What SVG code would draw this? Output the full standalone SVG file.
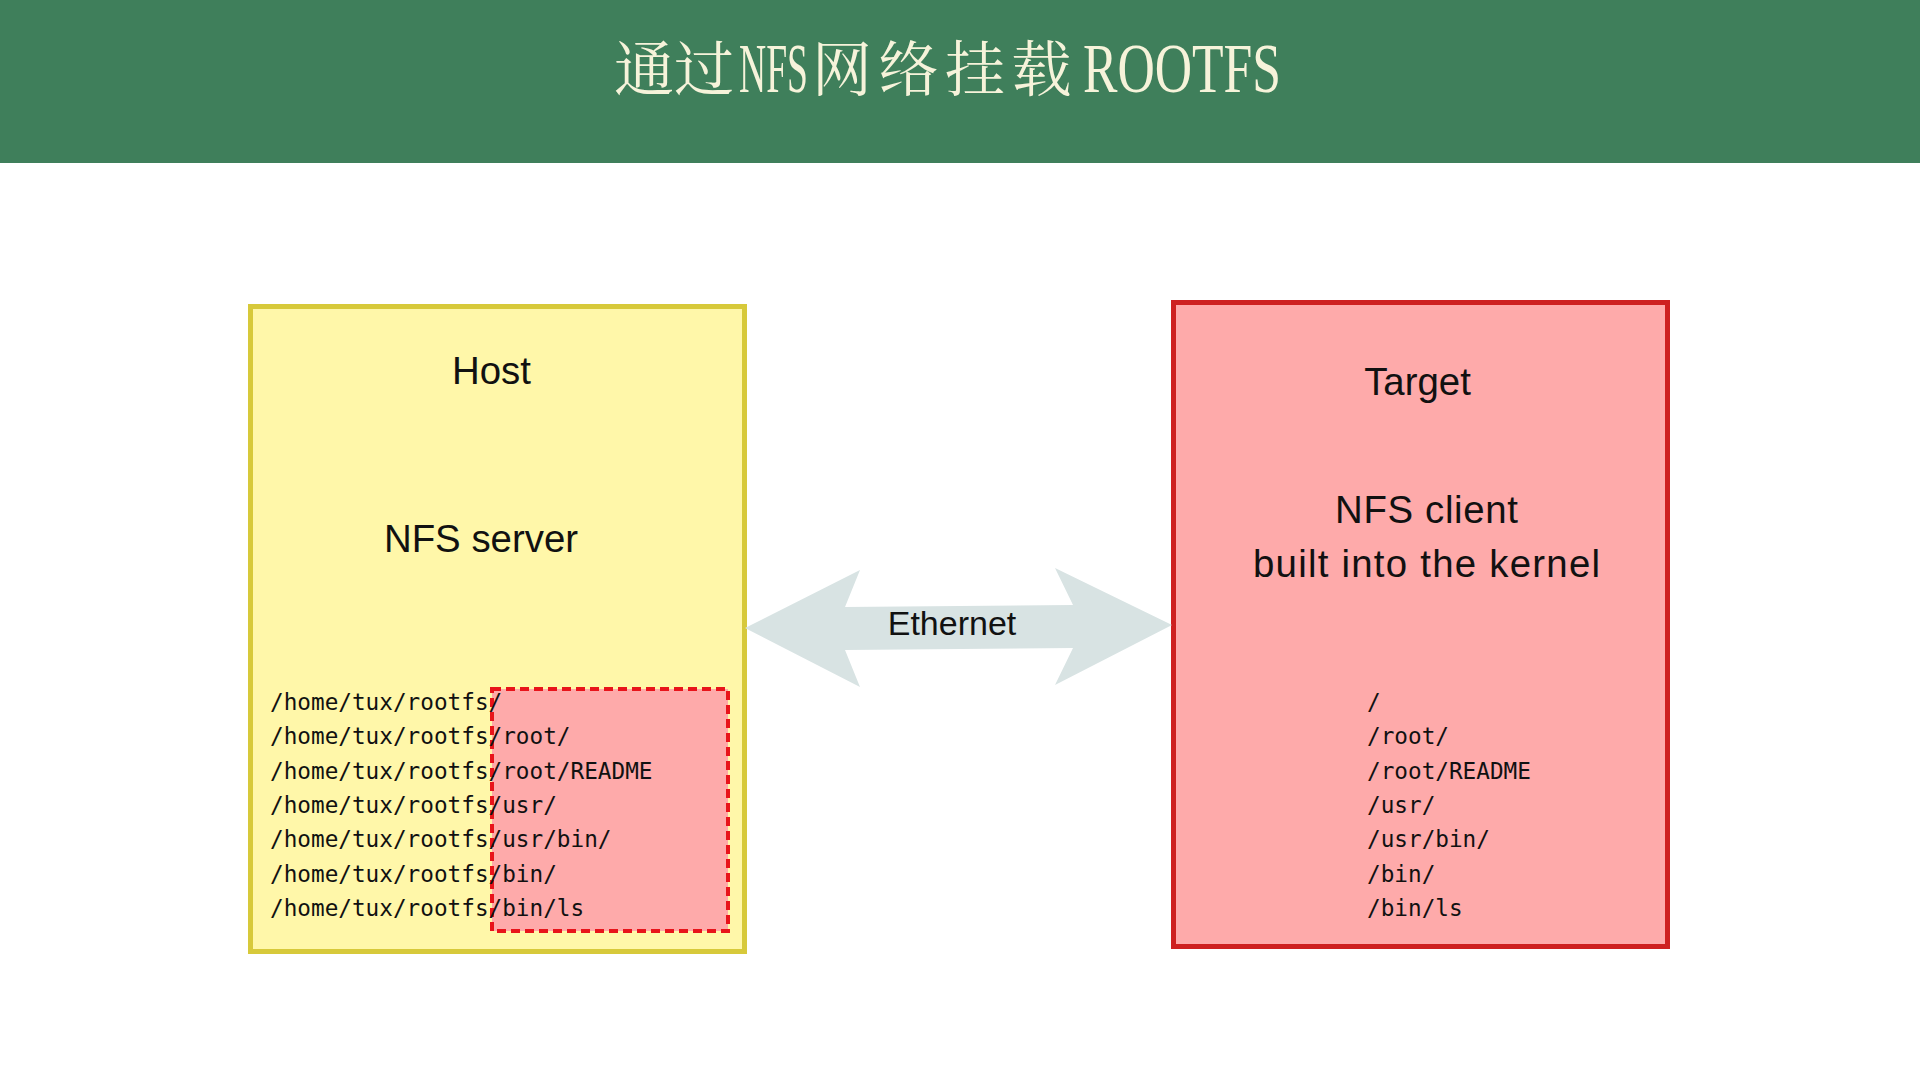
<svg xmlns="http://www.w3.org/2000/svg" width="1920" height="1080" viewBox="0 0 1920 1080">
  <style>
    .title-cjk { font-family: "Noto Serif CJK SC", "Noto Sans CJK SC", serif; font-size: 60px; fill: #F6F3DA; }
    .title-lat { font-family: "Liberation Serif", "Noto Sans CJK SC", serif; font-size: 70px; fill: #F6F3DA; }
    .label { font-family: "Liberation Sans", "DejaVu Sans", sans-serif; font-size: 38.4px; fill: #111111; text-anchor: middle; }
    .eth { font-family: "Liberation Sans", "DejaVu Sans", sans-serif; font-size: 34px; fill: #111111; text-anchor: middle; }
    .mono { font-family: "DejaVu Sans Mono", "Liberation Mono", monospace; font-size: 22.7px; fill: #111111; }
    .host-box { fill: #FFF7A9; stroke: #D7C93A; stroke-width: 5; }
    .target-box { fill: #FEAAAA; stroke: #CE2020; stroke-width: 5; }
    .mount { fill: #FEAAAA; stroke: #E8141A; stroke-width: 4; stroke-dasharray: 9 5; }
    .arrow { fill: #D8E3E3; }
  </style>

  <rect x="0" y="0" width="1920" height="1080" fill="#FFFFFF"/>

  <g id="title">
    <rect x="0" y="0" width="1920" height="163" fill="#3F7F5B"/>
    <text class="title-cjk" x="614" y="91">通过</text>
    <text class="title-lat" transform="translate(739 92) scale(0.537 1)" x="0" y="0">NFS</text>
    <text class="title-cjk" x="812" y="91" letter-spacing="6.5">网络挂载</text>
    <text class="title-lat" transform="translate(1083 92) scale(0.738 1)" x="0" y="0">ROOTFS</text>
  </g>

  <g id="host">
    <rect class="host-box" x="250.5" y="306.5" width="494" height="645"/>
    <text class="label" x="491.5" y="384">Host</text>
    <text class="label" x="481" y="552">NFS server</text>
    <rect id="mounted-subtree" class="mount" x="492" y="689" width="236" height="242"/>
    <text class="mono" x="270" y="710">/home/tux/rootfs/</text>
    <text class="mono" x="270" y="744.3">/home/tux/rootfs/root/</text>
    <text class="mono" x="270" y="778.6">/home/tux/rootfs/root/README</text>
    <text class="mono" x="270" y="812.9">/home/tux/rootfs/usr/</text>
    <text class="mono" x="270" y="847.2">/home/tux/rootfs/usr/bin/</text>
    <text class="mono" x="270" y="881.5">/home/tux/rootfs/bin/</text>
    <text class="mono" x="270" y="915.8">/home/tux/rootfs/bin/ls</text>
  </g>

  <g id="target">
    <rect class="target-box" x="1173.5" y="302.5" width="494" height="644"/>
    <text class="label" x="1417.5" y="395">Target</text>
    <text class="label" x="1426.5" y="523" textLength="183">NFS client</text>
    <text class="label" x="1426.5" y="577" textLength="347">built into the kernel</text>
    <text class="mono" x="1367" y="710">/</text>
    <text class="mono" x="1367" y="744.3">/root/</text>
    <text class="mono" x="1367" y="778.6">/root/README</text>
    <text class="mono" x="1367" y="812.9">/usr/</text>
    <text class="mono" x="1367" y="847.2">/usr/bin/</text>
    <text class="mono" x="1367" y="881.5">/bin/</text>
    <text class="mono" x="1367" y="915.8">/bin/ls</text>
  </g>

  <g id="connectors">
    <polygon class="arrow" points="745,628 860,570 845,607 1073,605 1055,568 1172,625 1055,685 1073,648 845,650 860,687"/>
    <text class="eth" x="952" y="635">Ethernet</text>
  </g>
</svg>
